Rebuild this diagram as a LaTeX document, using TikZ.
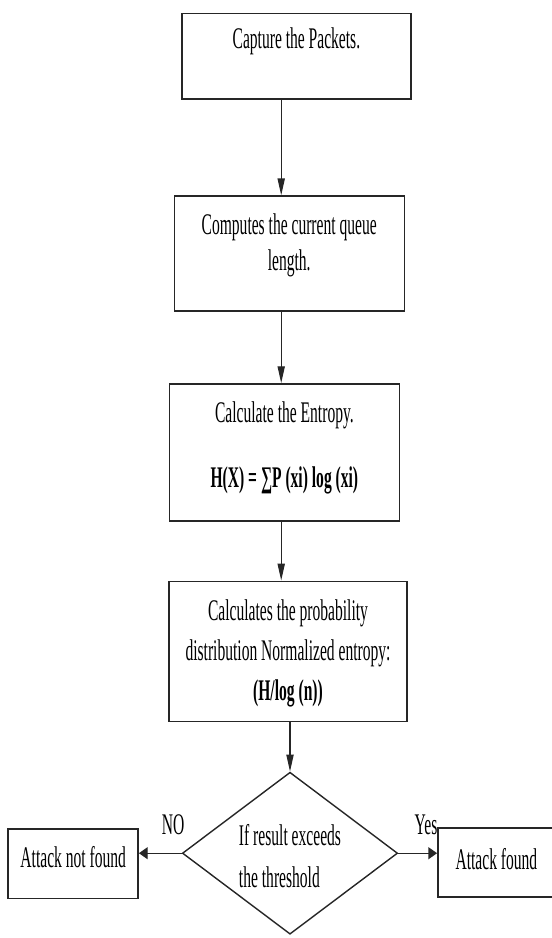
\documentclass[tikz,border=0pt]{standalone}
\usepackage{fontspec}
\setmainfont{Liberation Serif}[FakeStretch=0.52]
\usetikzlibrary{arrows.meta,shapes.geometric}

\begin{document}
\begin{tikzpicture}[
  box/.style={draw=black!85,line width=1pt,align=center,inner sep=2pt,font=\fontsize{21.3}{25}\selectfont,text height=0.5cm},
  cond/.style={box,diamond,aspect=1.33,align=left},
  varr/.style={-{Triangle[length=0.42cm,width=0.18cm]},line width=0.8pt,draw=black!85},
  harr/.style={-{Triangle[length=0.22cm,width=0.3cm]},line width=1pt,draw=black!85},
  lbl/.style={font=\fontsize{21.3}{25}\selectfont,inner sep=0pt}]
\useasboundingbox (0,0) rectangle (13.775,-23.45);
\node[box,minimum width=5.73cm,minimum height=2.13cm,text depth=0.875cm] (cap) at (7.41,-1.41) {Capture the Packets.};
\node[box,minimum width=5.75cm,minimum height=2.88cm,text height=1.375cm,text depth=0.55cm] (queue) at (7.23,-6.34) {Computes the current queue\\length.};
\node[box,minimum width=5.76cm,minimum height=3.43cm,text height=2.125cm,text depth=0.35cm] (ent) at (7.11,-11.31) {Calculate the Entropy.\\[0.75cm]\textbf{H(X) = ∑P (xi) log (xi)}};
\node[box,minimum width=5.95cm,minimum height=3.5cm,text height=2.5cm,text depth=0.05cm] (prob) at (7.2,-16.28) {Calculates the probability\\[3.5pt]distribution Normalized entropy:\\[3.5pt]\textbf{(H/log (n))}};
\node[cond,minimum width=5.38cm,minimum height=4.05cm,text height=1.7cm,text depth=0cm] (thr) at (7.25,-21.33) {If result exceeds\\[5pt]the threshold};
\node[box,minimum width=3.25cm,minimum height=1.73cm,text depth=0.33cm] (nf) at (1.83,-21.59) {Attack not found};
\node[box,minimum width=2.93cm,minimum height=1.73cm,text depth=0.13cm] (fd) at (12.41,-21.56) {Attack found};
\node[lbl] (nolbl) at (4.33,-20.63) {NO};
\node[lbl] (yeslbl) at (10.65,-20.63) {Yes};
\coordinate (spine) at (7.03,0);
\foreach \a/\b in {cap/queue,queue/ent,ent/prob} \draw[varr] (\a.south -| spine)--(\b.north -| spine);
\draw[varr] (prob.south -| thr.north)--(thr.north);
\draw[harr] (thr.west)--(thr.west -| nf.east);
\draw[harr] (thr.east)--(thr.east -| fd.west);
\end{tikzpicture}
\end{document}
